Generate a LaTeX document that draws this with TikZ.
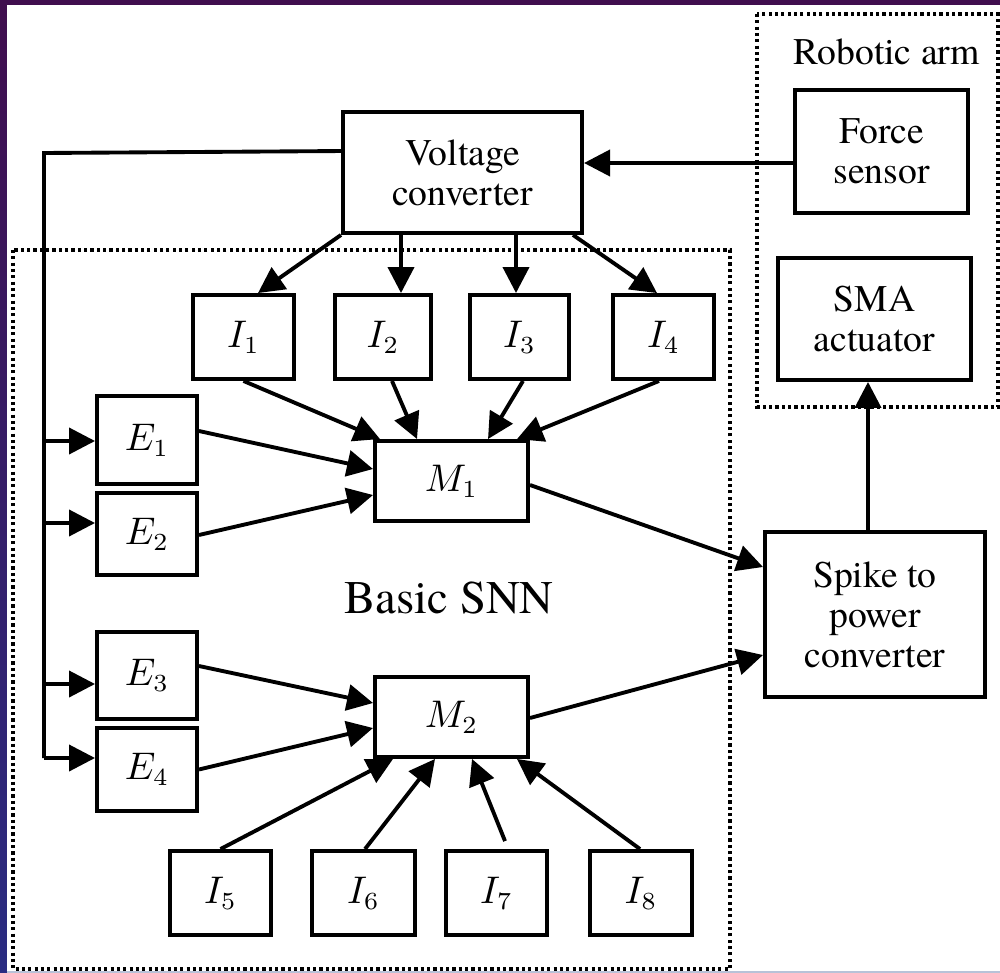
\documentclass[tikz,border=0pt]{standalone}
\usepackage{fontspec}
\IfFontExistsTF{texgyretermes-regular.otf}
  {\setmainfont{texgyretermes}[Extension=.otf,UprightFont=*-regular,BoldFont=*-bold,ItalicFont=*-italic,BoldItalicFont=*-bolditalic]}
  {\setmainfont{Liberation Serif}}
\usetikzlibrary{arrows.meta,calc}
\definecolor{bgtop}{HTML}{400E4E}
\definecolor{bgbot}{HTML}{2A2C82}
\definecolor{bgline}{HTML}{B8C2D8}
\tikzset{
  conn/.style={line width=1.1pt},
  arr/.style={conn,-{Triangle[length=0.26cm,width=0.26cm]}},
  blk/.style={draw,line width=1.1pt,inner sep=0pt,align=center,fill=white},
  grp/.style={line width=0.9pt,dash pattern=on 0.9pt off 0.9pt},
  every node/.style={font=\fontsize{10.7}{11.4}\selectfont}
}
\begin{document}
\begin{tikzpicture}[x=0.01cm,y=-0.01cm]
\useasboundingbox (0,0) rectangle (1000,973);
% background
\fill[bgtop] (0,0) rectangle (1000,5);
\shade[top color=bgtop,bottom color=bgbot] (0,0) rectangle (7,973);
\fill[white] (7,5) rectangle (1000,973);
\fill[bgline] (7,971) rectangle (1000,973);
% group boxes
\draw[grp] (13,250) rectangle (730,969);
\draw[grp] (757,14) rectangle (998,407);
\node[font=\fontsize{13.3}{14}\selectfont] (snn) at (449,598) {Basic SNN};
\node (arm) at (887,52) {Robotic arm};
% blocks
\node[blk,minimum width=2.39cm,minimum height=1.21cm] (VC) at (462.5,172.5) {Voltage\\converter};
\node[blk,minimum width=1.73cm,minimum height=1.23cm] (FS) at (881.5,151.5) {Force\\sensor};
\node[blk,minimum width=1.93cm,minimum height=1.22cm] (SMA) at (874.5,319) {SMA\\actuator};
\node[blk,minimum width=2.20cm,minimum height=1.65cm] (SP) at (875,614.5) {Spike to\\power\\converter};
\node[blk,minimum width=1.01cm,minimum height=0.84cm] (I1) at (243.5,337) {$I_1$};
\node[blk,minimum width=0.96cm,minimum height=0.84cm] (I2) at (383,337) {$I_2$};
\node[blk,minimum width=0.99cm,minimum height=0.84cm] (I3) at (519.5,337) {$I_3$};
\node[blk,minimum width=1.01cm,minimum height=0.84cm] (I4) at (663.5,337) {$I_4$};
\node[blk,minimum width=1.00cm,minimum height=0.88cm] (E1) at (147,440) {$E_1$};
\node[blk,minimum width=1.00cm,minimum height=0.82cm] (E2) at (147,534) {$E_2$};
\node[blk,minimum width=1.00cm,minimum height=0.87cm] (E3) at (147,675.5) {$E_3$};
\node[blk,minimum width=1.00cm,minimum height=0.83cm] (E4) at (147,769.5) {$E_4$};
\node[blk,minimum width=1.53cm,minimum height=0.80cm] (M1) at (451.5,481) {$M_1$};
\node[blk,minimum width=1.53cm,minimum height=0.80cm] (M2) at (451.5,717) {$M_2$};
\node[blk,minimum width=1.01cm,minimum height=0.84cm] (I5) at (220.5,893) {$I_5$};
\node[blk,minimum width=1.03cm,minimum height=0.84cm] (I6) at (363.5,893) {$I_6$};
\node[blk,minimum width=1.01cm,minimum height=0.84cm] (I7) at (496.5,893) {$I_7$};
\node[blk,minimum width=1.02cm,minimum height=0.84cm] (I8) at (641,893) {$I_8$};
% feedback bus
\draw[conn] ($(VC.north west)+(0,41)$) -- (44,153) coordinate (bt) -- (44,758) coordinate (bb);
\coordinate (e1in) at ($(E1.west)+(0,1)$);
\coordinate (e2in) at ($(E2.west)+(0,-11)$);
\coordinate (e3in) at ($(E3.west)+(0,8.5)$);
\coordinate (e4in) at ($(E4.west)+(0,-11.5)$);
\draw[arr] (bt |- e1in) -- (e1in);
\draw[arr] (bt |- e2in) -- (e2in);
\draw[arr] (bt |- e3in) -- (e3in);
\draw[arr] (bt |- e4in) -- (e4in);
% voltage converter to I1..I4
\draw[arr] (VC.south west) -- ($(I1.north)+(14.5,0)$);
\coordinate (i2in) at ($(I2.north)+(18,0)$);
\draw[arr] (VC.south -| i2in) -- (i2in);
\coordinate (i3in) at ($(I3.north)+(-3.5,0)$);
\draw[arr] (VC.south -| i3in) -- (i3in);
\draw[arr] ($(VC.south east)+(-11,0)$) -- ($(I4.north)+(-6.5,0)$);
% force sensor to voltage converter
\coordinate (fsout) at ($(FS.west)+(0,11.5)$);
\draw[arr] (fsout) -- (VC.east |- fsout);
% I1..I4 to M1
\draw[arr] (I1.south) -- ($(M1.north west)+(7,0)$);
\draw[arr] ($(I2.south)+(9,0)$) -- ($(M1.north west)+(44,0)$);
\draw[arr] ($(I3.south)+(3.5,0)$) -- ($(M1.north west)+(115,0)$);
\draw[arr] ($(I4.south)+(-4.5,0)$) -- ($(M1.north west)+(144,0)$);
% E to M
\draw[arr] ($(E1.east)+(0,-9)$) -- ($(M1.west)+(0,-12)$);
\draw[arr] ($(E2.east)+(0,1)$) -- ($(M1.west)+(0,14)$);
\draw[arr] ($(E3.east)+(0,-9.5)$) -- ($(M2.west)+(0,-14)$);
\draw[arr] (E4.east) -- ($(M2.west)+(0,11)$);
% I5..I8 to M2
\draw[arr] (I5.north) -- ($(M2.south west)+(20,0)$);
\draw[arr] ($(I6.north)+(1.5,0)$) -- ($(M2.south west)+(62,0)$);
\draw[arr] ($(I7.north)+(8.5,-8)$) -- ($(M2.south west)+(99,0)$);
\draw[arr] ($(I8.north)+(-1,0)$) -- ($(M2.south west)+(144,0)$);
% M to spike converter
\draw[arr] ($(M1.east)+(0,4)$) -- ($(SP.west)+(0,-47.5)$);
\draw[arr] ($(M2.east)+(0,1)$) -- ($(SP.west)+(0,40.5)$);
% spike converter to SMA
\coordinate (spout) at ($(SP.north)+(-7,0)$);
\draw[arr] (spout) -- (SMA.south -| spout);
\end{tikzpicture}
\end{document}
